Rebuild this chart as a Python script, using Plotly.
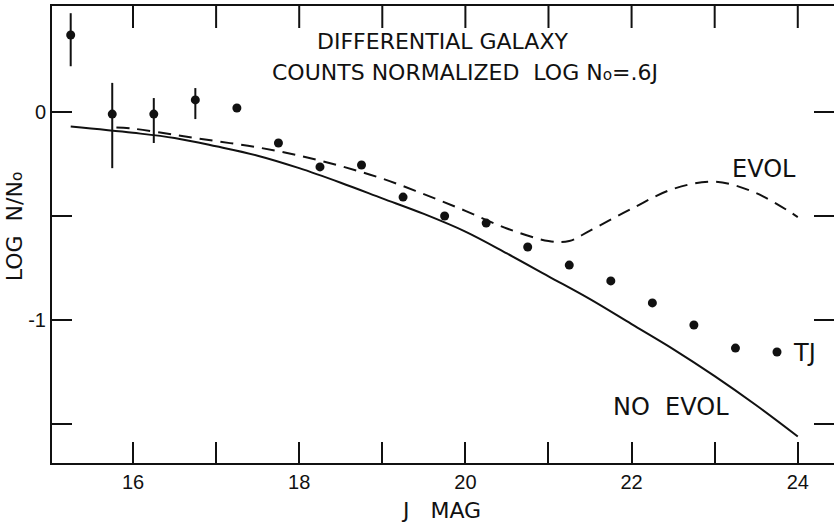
import plotly.graph_objects as go

# ---- data ----
j_mag = [15.25, 15.75, 16.25, 16.75, 17.25, 17.75, 18.25, 18.75, 19.25,
         19.75, 20.25, 20.75, 21.25, 21.75, 22.25, 22.75, 23.25, 23.75]
log_counts = [0.37, -0.01, -0.01, 0.058, 0.019, -0.149, -0.264, -0.255, -0.409,
              -0.50, -0.534, -0.649, -0.736, -0.812, -0.918, -1.024, -1.135, -1.154]
err_plus = [0.105, 0.15, 0.077, 0.057, 0, 0, 0, 0, 0, 0, 0, 0, 0, 0, 0, 0, 0, 0]
err_minus = [0.15, 0.26, 0.139, 0.092, 0, 0, 0, 0, 0, 0, 0, 0, 0, 0, 0, 0, 0, 0]

no_evol_mag = [15.25, 16.0, 16.5, 17.0, 17.5, 18.0, 18.5, 19.0, 19.5, 20.0,
               20.5, 21.0, 21.5, 22.0, 22.5, 23.0, 23.5, 24.0]
no_evol_log = [-0.07, -0.10, -0.125, -0.165, -0.21, -0.27, -0.34, -0.415, -0.49, -0.575,
               -0.68, -0.79, -0.90, -1.02, -1.14, -1.27, -1.41, -1.56]

evol_mag = [15.8, 16.0, 16.5, 17.0, 17.5, 18.0, 18.5, 19.0, 19.5, 20.0,
            20.5, 21.0, 21.25, 21.5, 22.0, 22.5, 23.0, 23.5, 24.0]
evol_log = [-0.075, -0.08, -0.11, -0.14, -0.17, -0.21, -0.26, -0.32, -0.395, -0.475,
            -0.56, -0.62, -0.62, -0.57, -0.465, -0.37, -0.335, -0.39, -0.505]

x_tick_vals = [16, 17, 18, 19, 20, 21, 22, 23, 24]
x_tick_text = ["16", "", "18", "", "20", "", "22", "", "24"]
y_tick_vals = [0, -0.5, -1, -1.5]
y_tick_text = ["0", "", "-1", ""]

INK = "#111111"
LETTER = "DejaVu Sans"
DIGITS = "Liberation Sans"

x_range = [15.025, 24.436]
y_range = [-1.6875, 0.5096]
PLOT_H = 522 - 6 - 59
TOP_TICK = 22 * (y_range[1] - y_range[0]) / PLOT_H  # 22 px in data units

fig = go.Figure()

fig.add_trace(go.Scatter(
    x=no_evol_mag, y=no_evol_log, mode="lines",
    line=dict(color=INK, width=2, shape="spline"), showlegend=False))

fig.add_trace(go.Scatter(
    x=evol_mag, y=evol_log, mode="lines",
    line=dict(color=INK, width=2, shape="spline", dash="13px,8px"), showlegend=False))

fig.add_trace(go.Scatter(
    x=j_mag, y=log_counts, mode="markers",
    marker=dict(color=INK, size=9),
    error_y=dict(type="data", symmetric=False, array=err_plus, arrayminus=err_minus,
                 color=INK, thickness=2, width=0),
    showlegend=False))

# top-edge tick strokes built from the tick values
top_x, top_y = [], []
for tv in x_tick_vals:
    top_x += [tv, tv, None]
    top_y += [y_range[1], y_range[1] - TOP_TICK, None]
fig.add_trace(go.Scatter(x=top_x, y=top_y, mode="lines", cliponaxis=False,
                         line=dict(color=INK, width=2), showlegend=False, hoverinfo="skip"))

# invisible trace carrying the right tick axis
fig.add_trace(go.Scatter(x=[None], y=[None], yaxis="y2",
                         showlegend=False, hoverinfo="skip"))

fig.update_layout(
    width=834, height=522,
    margin=dict(l=52, r=0, t=6, b=59, autoexpand=False),
    paper_bgcolor="white", plot_bgcolor="white",
    xaxis=dict(
        range=x_range, tickvals=x_tick_vals, ticktext=x_tick_text,
        ticks="inside", ticklen=21, tickwidth=2, tickcolor=INK,
        showline=True, linewidth=2, linecolor=INK, mirror=True,
        showgrid=False, zeroline=False, automargin=False,
        tickfont=dict(family=DIGITS, size=20, color=INK),
    ),
    yaxis=dict(
        range=y_range, tickvals=y_tick_vals, ticktext=y_tick_text,
        ticks="inside", ticklen=20, tickwidth=2, tickcolor=INK,
        showline=True, linewidth=2, linecolor=INK,
        showgrid=False, zeroline=False, automargin=False,
        tickfont=dict(family=DIGITS, size=20, color=INK),
    ),
    yaxis2=dict(
        overlaying="y", side="right", range=y_range, tickvals=y_tick_vals,
        showticklabels=False, ticks="inside", ticklen=20, tickwidth=2, tickcolor=INK,
        showline=False, showgrid=False, zeroline=False, automargin=False,
    ),
)

small_o = "<span style='font-size:70%'>o</span>"

annotations = [
    dict(text="DIFFERENTIAL GALAXY", x=19.73, y=0.337, size=22),
    dict(text="COUNTS NORMALIZED  LOG N" + small_o + "=.6J", x=20.0, y=0.192, size=22),
    dict(text="EVOL", x=23.59, y=-0.274, size=24),
    dict(text="NO  EVOL", x=22.47, y=-1.418, size=24),
]
for a in annotations:
    fig.add_annotation(text=a["text"], x=a["x"], y=a["y"], xref="x", yref="y",
                       showarrow=False, xanchor="center", yanchor="middle",
                       font=dict(family=LETTER, size=a["size"], color=INK))

fig.add_annotation(text="TJ", x=23.92, y=-1.16, xref="x", yref="y",
                   showarrow=False, xanchor="left", yanchor="middle",
                   font=dict(family=LETTER, size=24, color=INK))

fig.add_annotation(text="J   MAG", x=0.497, y=-0.103, xref="paper", yref="paper",
                   showarrow=False, xanchor="center", yanchor="middle",
                   font=dict(family=LETTER, size=22, color=INK))

fig.add_annotation(text="LOG  N/N" + small_o, x=-0.047, y=-0.548, xref="paper", yref="y",
                   showarrow=False, textangle=-90, xanchor="center", yanchor="middle",
                   font=dict(family=LETTER, size=22, color=INK))

fig.write_html("out.html", config={"displayModeBar": False},
               post_script="document.body.style.margin='0px';document.body.style.overflow='hidden';")
